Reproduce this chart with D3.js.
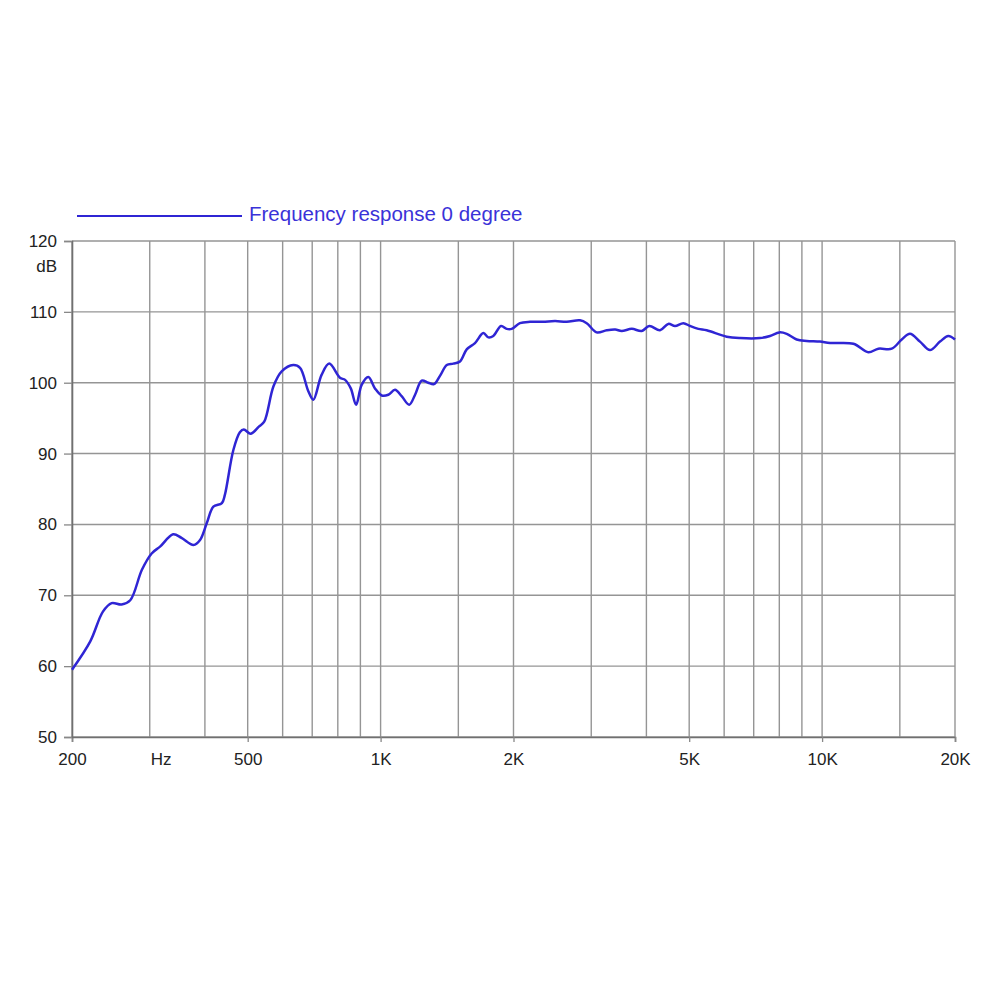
<!DOCTYPE html>
<html lang="en">
<head>
<meta charset="UTF-8">
<title>Frequency response</title>
<script src="https://cdn.jsdelivr.net/npm/d3@7/dist/d3.min.js"></script>
<style>
    body { margin: 0; background: #fff; }
    svg { display: block; }
    text { font-family: "Liberation Sans", Arial, sans-serif; }
</style>
</head>
<body>
<svg width="1000" height="1000"></svg>
<script>
    // measured curve, Hz / dB
    var freqs = [200, 220, 235, 246, 259, 271, 288, 303, 317, 339, 354, 377, 390, 404, 418, 437, 444,
        464, 480, 490, 508, 530, 545, 572, 597, 634, 657, 686, 704, 735, 765, 809, 831, 856, 880, 906,
        938, 971, 1006, 1041, 1078, 1116, 1161, 1197, 1239, 1282, 1321, 1364, 1412, 1461, 1513, 1567,
        1636, 1709, 1754, 1800, 1874, 1930, 1981, 2068, 2180, 2330, 2484, 2640, 2829, 2930, 3086, 3252,
        3400, 3516, 3707, 3903, 4062, 4294, 4484, 4644, 4850, 5022, 5244, 5478, 6080, 6518, 7232, 7622,
        8000, 8316, 8758, 9226, 9890, 10424, 11771, 12727, 13409, 14380, 15150, 15815, 16661, 17556,
        18494, 19313, 20000];
    var levels = [59.5, 63.5, 67.7, 68.9, 68.7, 69.3, 73.6, 75.9, 76.9, 78.6, 78.1, 77.1, 77.8, 80.2, 82.5, 83.0, 84.2,
        90.5, 93.0, 93.4, 92.8, 93.8, 94.5, 99.5, 101.6, 102.5, 102.1, 98.8, 97.6, 101.1, 102.7, 100.7, 100.4, 99.2, 96.9, 99.7,
        100.8, 99.2, 98.2, 98.3, 99.0, 98.1, 96.9, 98.3, 100.3, 100.0, 99.8, 101.0, 102.5, 102.7, 103.0, 104.7,
        105.6, 107.0, 106.4, 106.6, 108.0, 107.6, 107.6, 108.4, 108.6, 108.6, 108.7, 108.6, 108.8, 108.4, 107.1, 107.4,
        107.5, 107.3, 107.6, 107.3, 108.0, 107.4, 108.3, 108.0, 108.4, 108.0, 107.6, 107.4, 106.5, 106.3, 106.3, 106.6,
        107.1, 106.9, 106.1, 105.9, 105.8, 105.6, 105.5, 104.3, 104.8, 104.8, 106.1, 106.9, 105.8, 104.6,
        105.8, 106.6, 106.1];

    var gridFreqs = [200, 300, 400, 500, 600, 700, 800, 900, 1000, 1500, 2000, 3000, 4000, 5000,
        6000, 7000, 8000, 9000, 10000, 15000, 20000];
    var xTickValues = [200, 500, 1000, 2000, 5000, 10000, 20000];
    var xTickLabels = ["200", "500", "1K", "2K", "5K", "10K", "20K"];
    var yTicks = [50, 60, 70, 80, 90, 100, 110, 120];
    var legendLabel = "Frequency response 0 degree";

    var blue = "#2f25d4";
    var svg = d3.select("svg");

    var x = d3.scaleLog().domain([200, 20000]).range([72, 955]);
    var y = d3.scaleLinear().domain([50, 120]).range([737, 241]);

    // grid
    svg.append("g").selectAll("line")
        .data(gridFreqs)
        .enter().append("line")
        .attr("x1", function (d) { return x(d); })
        .attr("x2", function (d) { return x(d); })
        .attr("y1", y(120)).attr("y2", y(50))
        .attr("stroke", "#959595").attr("stroke-width", 1.4);

    svg.append("g").selectAll("line")
        .data(yTicks)
        .enter().append("line")
        .attr("x1", x(200)).attr("x2", x(20000))
        .attr("y1", function (d) { return y(d); })
        .attr("y2", function (d) { return y(d); })
        .attr("stroke", "#959595").attr("stroke-width", 1.4);

    // axes
    var xAxis = svg.append("g")
        .attr("transform", "translate(0," + y(50) + ")")
        .call(d3.axisBottom(x).tickValues(xTickValues).tickSize(5).tickPadding(11)
            .tickFormat(function (d, i) { return xTickLabels[i]; }));
    var yAxis = svg.append("g")
        .attr("transform", "translate(" + x(200) + ",0)")
        .call(d3.axisLeft(y).tickValues(yTicks).tickSize(8).tickPadding(7));

    [xAxis, yAxis].forEach(function (a) {
        a.select(".domain").attr("stroke", "#707070").attr("stroke-width", 1.6);
        a.selectAll(".tick line").attr("stroke", "#888").attr("stroke-width", 1.3);
        a.selectAll("text").attr("fill", "#222").style("font-size", "17px")
            .style("font-family", "'Liberation Sans', Arial, sans-serif");
    });

    svg.append("text")
        .attr("x", x(300) + 1).attr("y", 765)
        .attr("fill", "#222").style("font-size", "17px")
        .text("Hz");
    svg.append("text")
        .attr("x", 57).attr("y", 272)
        .attr("text-anchor", "end")
        .attr("fill", "#222").style("font-size", "17px")
        .text("dB");

    // curve
    var pts = freqs.map(function (f, i) { return { f: f, v: levels[i] }; });
    var line = d3.line()
        .x(function (d) { return x(d.f); })
        .y(function (d) { return y(d.v); })
        .curve(d3.curveCatmullRom.alpha(0.5));

    svg.append("path")
        .datum(pts)
        .attr("fill", "none")
        .attr("stroke", blue)
        .attr("stroke-width", 2.5)
        .attr("stroke-linejoin", "round")
        .attr("d", line);

    // legend
    svg.append("line")
        .attr("x1", 77).attr("x2", 242)
        .attr("y1", 216).attr("y2", 216)
        .attr("stroke", blue).attr("stroke-width", 2);
    svg.append("text")
        .attr("x", 249).attr("y", 221)
        .attr("fill", "#3a32d8").style("font-size", "20.5px")
        .text(legendLabel);
</script>
</body>
</html>
